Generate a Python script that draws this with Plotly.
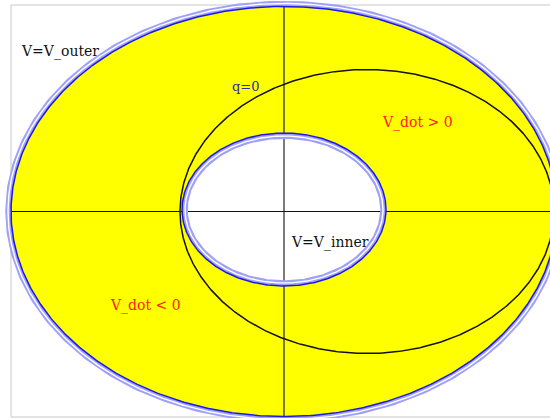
import numpy as np
import plotly.graph_objects as go

# Ellipse parameters (plot units, origin at axis crossing)
outer_center = [0.0, 0.0]
outer_radii = [273.0, 205.0]
inner_center = [0.0, 2.0]
inner_radii = [102.0, 76.5]
q0_center = [83.0, 0.0]
q0_radii = [187.0, 142.0]

# Frame / axis extents
x_range = [-284.0, 266.0]
y_range = [-206.5, 211.5]
frame_x = [-273.0, 600.0]
frame_y = [-205.5, 206.5]

# Labels
label_text = ["V=V_outer", "q=0", "V_dot > 0", "V_dot < 0", "V=V_inner"]
label_x = [-262.0, -52.0, 99.0, -173.0, 8.0]
label_y = [159.5, 123.5, 88.5, -94.5, -31.5]
label_color = ["#111111", "#2a2aa8", "#ff1a1a", "#ff1a1a", "#111111"]
label_size = [14, 13, 14, 14, 14]

t = np.linspace(0, 2 * np.pi, 721)


def ell(c, r, d=0.0):
    return (c[0] + (r[0] + d) * np.cos(t), c[1] + (r[1] + d) * np.sin(t))


fig = go.Figure()
FONT = "DejaVu Serif"


def text_trace(i):
    return go.Scatter(x=[label_x[i]], y=[label_y[i]], mode="text", text=[label_text[i]],
                      textposition="middle right",
                      textfont=dict(family=FONT, size=label_size[i], color=label_color[i]),
                      hoverinfo="skip")


# outer label under the fill
fig.add_trace(text_trace(0))
ox, oy = ell(outer_center, outer_radii)
fig.add_trace(go.Scatter(x=ox, y=oy, fill="toself", fillcolor="#ffff00", mode="none", hoverinfo="skip"))
ix, iy = ell(inner_center, inner_radii)
fig.add_trace(go.Scatter(x=ix, y=iy, fill="toself", fillcolor="#ffffff", mode="none", hoverinfo="skip"))
fig.add_trace(text_trace(4))

# axis lines
fig.add_trace(go.Scatter(x=[frame_x[0], x_range[1]], y=[0, 0], mode="lines",
                         line=dict(color="#111111", width=1), hoverinfo="skip"))
fig.add_trace(go.Scatter(x=[0, 0], y=[frame_y[0], frame_y[1]], mode="lines",
                         line=dict(color="#222222", width=1.2), hoverinfo="skip"))

# ellipse outlines with halo
for c, r, s in [(outer_center, outer_radii, 1), (inner_center, inner_radii, -1)]:
    hx, hy = ell(c, r, 3.0 * s)
    fig.add_trace(go.Scatter(x=hx, y=hy, mode="lines", line=dict(color="#a0a0f8", width=5.5), hoverinfo="skip"))
    fig.add_trace(go.Scatter(x=hx, y=hy, mode="lines", line=dict(color="#ffffff", width=1.4), hoverinfo="skip"))
    bx, by = ell(c, r)
    fig.add_trace(go.Scatter(x=bx, y=by, mode="lines", line=dict(color="#1a1ae6", width=1.5), hoverinfo="skip"))

qx, qy = ell(q0_center, q0_radii)
fig.add_trace(go.Scatter(x=qx, y=qy, mode="lines", line=dict(color="#111111", width=1.5), hoverinfo="skip"))

for i in [1, 2, 3]:
    fig.add_trace(text_trace(i))

fig.add_shape(type="rect", x0=frame_x[0], x1=frame_x[1], y0=frame_y[0], y1=frame_y[1],
              line=dict(color="#c8c8c8", width=1), layer="below")

fig.update_layout(width=550, height=418, autosize=False,
                  margin=dict(l=0, r=0, t=0, b=0), showlegend=False,
                  paper_bgcolor="white", plot_bgcolor="white",
                  xaxis=dict(range=x_range, visible=False, fixedrange=True),
                  yaxis=dict(range=y_range, visible=False, fixedrange=True))
fig.write_html("out.html")
